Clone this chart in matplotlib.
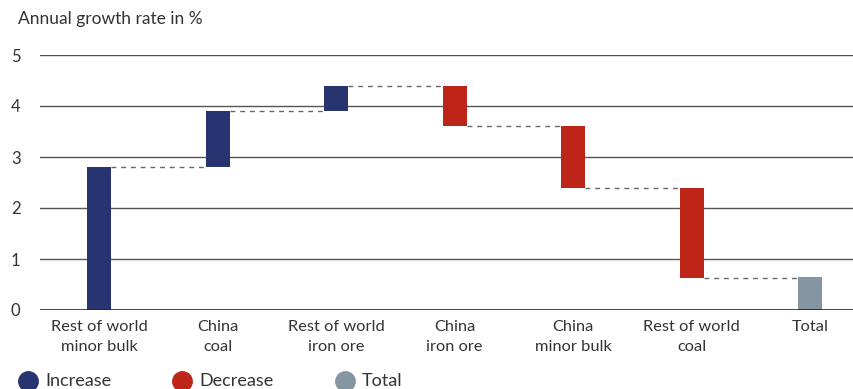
import matplotlib
matplotlib.use("Agg")
import matplotlib.pyplot as plt
from matplotlib.lines import Line2D

categories = ["Rest of world\nminor bulk", "China\ncoal", "Rest of world\niron ore",
              "China\niron ore", "China\nminor bulk", "Rest of world\ncoal", "Total"]
changes = [2.8, 1.1, 0.5, -0.8, -1.2, -1.78]
total = 0.65
kinds = ["Increase", "Decrease", "Total"]
colors = {"Increase": "#27346f", "Decrease": "#be2519", "Total": "#8596a3"}
yticks = [0, 1, 2, 3, 4, 5]

plt.rcParams["font.family"] = ["Lato", "DejaVu Sans"]

fig = plt.figure(figsize=(8.54, 3.89), dpi=100)
ax = fig.add_axes([40 / 854, 1 - 310 / 389, 1 - 40 / 854, (310 - 55) / 389])

width = 0.2
bottoms, tops, cols = [], [], []
level = 0.0
for c in changes:
    start, end = level, level + c
    bottoms.append(min(start, end))
    tops.append(max(start, end))
    cols.append(colors["Increase"] if c > 0 else colors["Decrease"])
    level = end
bottoms.append(0.0)
tops.append(total)
cols.append(colors["Total"])

for y in yticks[1:]:
    ax.axhline(y, color="#555555", lw=1.0, zorder=1)
ax.axhline(0, color="#222222", lw=1.2, zorder=3)

xs = list(range(len(categories)))
ax.bar(xs, [t - b for t, b in zip(tops, bottoms)], bottom=bottoms, width=width,
       color=cols, zorder=2)

# connectors between consecutive bars
level = 0.0
for i, c in enumerate(changes):
    level += c
    ax.plot([i + width / 2, i + 1 - width / 2], [level, level], ls=(0, (3.5, 3.5)),
            color="#666666", lw=1.0, zorder=2)

ax.set_xlim(-0.5, 6.37)
ax.set_ylim(0, 5)
ax.set_xticks(xs)
ax.set_xticklabels(categories, fontsize=11.8, color="#333333", linespacing=1.6)
ax.set_yticks(yticks)
ax.set_yticklabels([str(v) for v in yticks], fontsize=12, color="#333333")
ax.tick_params(length=0, pad=14, axis="y")
ax.tick_params(length=0, pad=7, axis="x")
for s in ax.spines.values():
    s.set_visible(False)

fig.text(18 / 854, 1 - 19 / 389, "Annual growth rate in %", fontsize=12.5,
         color="#333333", va="center", ha="left")

legend_x = [28, 182, 345]
for k, xp in zip(kinds, legend_x):
    fig.add_artist(Line2D([xp / 854], [1 - 381 / 389], marker="o", markersize=14,
                          color=colors[k], ls="none", transform=fig.transFigure))
    fig.text((xp + 17) / 854, 1 - 381 / 389, k, fontsize=13, color="#333333",
             va="center", ha="left")

fig.savefig("out.png", dpi=100)
